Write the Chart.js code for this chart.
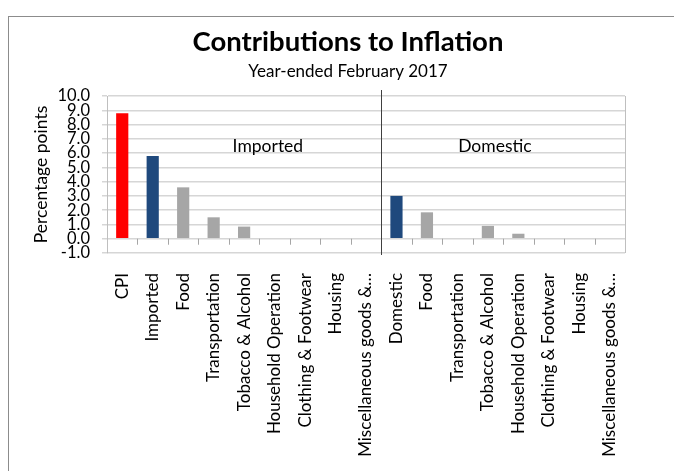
<!DOCTYPE html>
<html>
<head>
<meta charset="utf-8">
<script src="https://cdn.jsdelivr.net/npm/chart.js@4.4.1/dist/chart.umd.min.js"></script>
<style>
  html, body { margin: 0; padding: 0; background: #fff; }
  #frame {
    position: absolute; left: 8px; top: 16px; width: 720px; height: 520px;
    border: 1px solid #8c8c8c; box-sizing: border-box;
  }
  #wrap { position: absolute; left: 0; top: 0; width: 674px; height: 471px; }
</style>
</head>
<body>
<div id="frame"></div>
<div id="wrap"><canvas id="chart" width="674" height="471"></canvas></div>
<script>
// Contributions to inflation, year-ended February 2017 (percentage points)
const categories = [
  'CPI', 'Imported', 'Food', 'Transportation', 'Tobacco & Alcohol',
  'Household Operation', 'Clothing & Footwear', 'Housing', 'Miscellaneous goods &\u2026',
  'Domestic', 'Food', 'Transportation', 'Tobacco & Alcohol',
  'Household Operation', 'Clothing & Footwear', 'Housing', 'Miscellaneous goods &\u2026'
];
const contributions = [
  8.8, 5.8, 3.6, 1.5, 0.85, 0.05, 0.0, 0.05, 0.0,
  3.0, 1.85, 0.05, 0.9, 0.35, 0.0, 0.0, 0.0
];
const barColors = [
  '#ff0000', '#1f497d', '#a6a6a6', '#a6a6a6', '#a6a6a6', '#a6a6a6', '#a6a6a6', '#a6a6a6', '#a6a6a6',
  '#1f497d', '#a6a6a6', '#a6a6a6', '#a6a6a6', '#a6a6a6', '#a6a6a6', '#a6a6a6', '#a6a6a6'
];
const yTicks = [-1, 0, 1, 2, 3, 4, 5, 6, 7, 8, 9, 10];
const groupLabels = ['Imported', 'Domestic'];
const groupLabelAt = [4.78, 12.23];   // category index where each group label sits
const splitAfter = 8;                 // last index of the imported group

const FONT = 'Lato, "Open Sans", sans-serif';

// title, subtitle, group labels, zero-line ticks, divider, plot border
const decorations = {
  id: 'decorations',
  afterDraw(chart) {
    const { ctx, chartArea, scales } = chart;
    const x = scales.x, y = scales.y;
    const y0 = y.getPixelForValue(0);
    ctx.save();

    ctx.fillStyle = '#000';
    ctx.textAlign = 'center';
    ctx.textBaseline = 'alphabetic';
    ctx.font = 'bold 27.5px ' + FONT;
    ctx.fillText('Contributions to Inflation', 348, 51);
    ctx.font = '17px ' + FONT;
    ctx.fillText('Year-ended February 2017', 348, 77);

    ctx.font = '17.5px ' + FONT;
    ctx.textBaseline = 'middle';
    groupLabels.forEach((t, i) => ctx.fillText(t, x.getPixelForValue(groupLabelAt[i]), 146));

    // plot area right border
    ctx.strokeStyle = '#bfbfbf';
    ctx.lineWidth = 1;
    ctx.beginPath();
    ctx.moveTo(chartArea.right + 0.5, chartArea.top);
    ctx.lineTo(chartArea.right + 0.5, chartArea.bottom);
    ctx.stroke();

    // category tick marks hanging from the zero line
    ctx.strokeStyle = '#a6a6a6';
    ctx.beginPath();
    for (let i = 1; i < categories.length; i++) {
      if (i === splitAfter + 1) continue;
      const px = Math.round((x.getPixelForValue(i - 1) + x.getPixelForValue(i)) / 2) + 0.5;
      ctx.moveTo(px, y0);
      ctx.lineTo(px, y0 + 6);
    }
    ctx.stroke();

    // divider between imported and domestic
    const dx = Math.round((x.getPixelForValue(splitAfter) + x.getPixelForValue(splitAfter + 1)) / 2) + 0.5;
    ctx.strokeStyle = '#404040';
    ctx.beginPath();
    ctx.moveTo(dx, chartArea.top - 6);
    ctx.lineTo(dx, chartArea.bottom + 2);
    ctx.stroke();

    ctx.restore();
  }
};

new Chart(document.getElementById('chart'), {
  type: 'bar',
  data: {
    labels: categories,
    datasets: [{
      data: contributions,
      backgroundColor: barColors,
      borderWidth: 0,
      categoryPercentage: 1,
      barPercentage: 0.4
    }]
  },
  options: {
    responsive: false,
    animation: false,
    layout: { padding: { top: 96, right: 49, left: 0, bottom: 0 } },
    plugins: { legend: { display: false }, tooltip: { enabled: false }, title: { display: false } },
    scales: {
      x: {
        grid: { display: false },
        border: { display: false },
        ticks: {
          color: '#000',
          font: { family: FONT, size: 17 },
          minRotation: 90,
          maxRotation: 90,
          autoSkip: false,
          padding: 12
        },
        afterFit(scale) { scale.height = 218; }
      },
      y: {
        min: -1,
        max: 10,
        afterBuildTicks(scale) { scale.ticks = yTicks.map(v => ({ value: v })); },
        grid: { color: '#d6d6d6', lineWidth: 1.5, tickLength: 5 },
        border: { color: '#bfbfbf', width: 1 },
        ticks: {
          color: '#000',
          font: { family: FONT, size: 16.5, lineHeight: 0.9 },
          padding: 12,
          autoSkip: false,
          callback: v => v.toFixed(1)
        },
        title: {
          display: true,
          text: 'Percentage points',
          color: '#000',
          font: { family: FONT, size: 17.5 },
          padding: { top: 31, bottom: 0 }
        },
        afterFit(scale) { scale.width = 107; }
      }
    }
  },
  plugins: [decorations]
});
</script>
</body>
</html>
